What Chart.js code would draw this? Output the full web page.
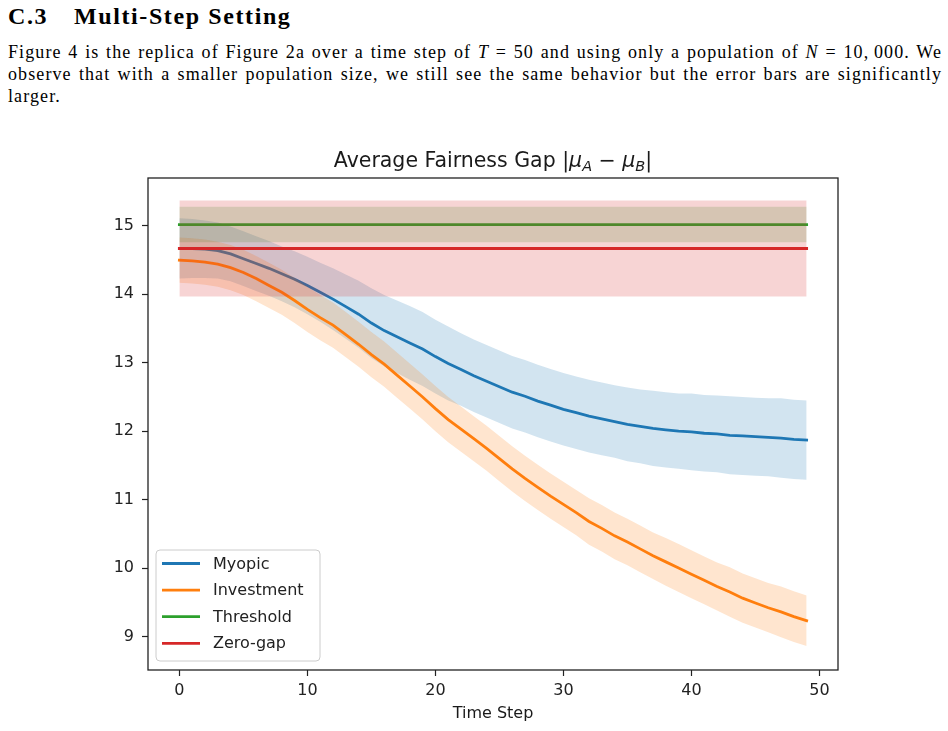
<!DOCTYPE html>
<html><head><meta charset="utf-8">
<script src="https://cdn.jsdelivr.net/npm/chart.js@4/dist/chart.umd.min.js"></script>
<style>
html,body{margin:0;padding:0;background:#fff;width:948px;height:731px;overflow:hidden;}
.tx{position:absolute;left:8px;width:934px;font-family:"Liberation Serif","Times New Roman",serif;color:#000;}
.h{font-weight:bold;font-size:24px;line-height:30px;white-space:nowrap;letter-spacing:1.6px;}
.p{font-size:18px;line-height:22px;letter-spacing:1.1px;text-align:justify;text-align-last:justify;}
.p.last{text-align:left;text-align-last:left;}
#wrap{position:absolute;left:0;top:130px;width:948px;height:601px;}
</style></head>
<body>
<div class="tx h" style="top:1px"><span>C.3</span><span style="position:absolute;left:66px;top:0">Multi-Step Setting</span></div>
<div class="tx p" style="top:41px">Figure 4 is the replica of Figure 2a over a time step of <i>T</i> = 50 and using only a population of <i>N</i> = 10,&#8201;000. We</div>
<div class="tx p" style="top:63px">observe that with a smaller population size, we still see the same behavior but the error bars are significantly</div>
<div class="tx p last" style="top:85px">larger.</div>
<div id="wrap"><canvas id="c" width="948" height="601"></canvas></div>
<script>
const steps = [0,1,2,3,4,5,6,7,8,9,10,11,12,13,14,15,16,17,18,19,20,21,22,23,24,25,26,27,28,29,30,31,32,33,34,35,36,37,38,39,40,41,42,43,44,45,46,47,48,49];
const seriesNames = ['Myopic','Investment','Threshold','Zero-gap'];
const myopicMean = [14.67,14.67,14.66,14.64,14.59,14.52,14.45,14.38,14.30,14.22,14.13,14.03,13.93,13.82,13.71,13.58,13.47,13.38,13.29,13.20,13.09,12.99,12.90,12.81,12.73,12.65,12.57,12.51,12.44,12.38,12.32,12.27,12.22,12.18,12.14,12.10,12.07,12.04,12.02,12.00,11.99,11.97,11.96,11.94,11.93,11.92,11.91,11.90,11.88,11.87];
const myopicStd = [0.44,0.43,0.42,0.41,0.40,0.40,0.40,0.40,0.40,0.41,0.42,0.43,0.45,0.47,0.49,0.51,0.52,0.53,0.54,0.54,0.54,0.54,0.53,0.53,0.53,0.53,0.53,0.53,0.53,0.53,0.53,0.53,0.53,0.53,0.53,0.54,0.54,0.55,0.55,0.55,0.56,0.56,0.56,0.57,0.57,0.57,0.57,0.58,0.58,0.58];
const investmentMean = [14.50,14.49,14.47,14.44,14.39,14.32,14.23,14.13,14.03,13.91,13.78,13.66,13.55,13.41,13.27,13.12,12.98,12.82,12.66,12.50,12.33,12.17,12.03,11.89,11.75,11.60,11.45,11.31,11.18,11.05,10.93,10.81,10.68,10.58,10.47,10.38,10.28,10.18,10.09,10.00,9.91,9.82,9.73,9.65,9.56,9.49,9.42,9.36,9.29,9.23];
const investmentStd = [0.33,0.33,0.33,0.33,0.33,0.33,0.33,0.33,0.33,0.33,0.33,0.33,0.33,0.33,0.33,0.33,0.33,0.33,0.33,0.33,0.33,0.33,0.33,0.33,0.33,0.33,0.33,0.33,0.33,0.33,0.33,0.33,0.34,0.34,0.34,0.34,0.34,0.34,0.35,0.35,0.35,0.35,0.35,0.36,0.36,0.36,0.36,0.37,0.37,0.37];
const thresholdMean = [15.02,15.02,15.02,15.02,15.02,15.02,15.02,15.02,15.02,15.02,15.02,15.02,15.02,15.02,15.02,15.02,15.02,15.02,15.02,15.02,15.02,15.02,15.02,15.02,15.02,15.02,15.02,15.02,15.02,15.02,15.02,15.02,15.02,15.02,15.02,15.02,15.02,15.02,15.02,15.02,15.02,15.02,15.02,15.02,15.02,15.02,15.02,15.02,15.02,15.02];
const thresholdStd = [0.26,0.26,0.26,0.26,0.26,0.26,0.26,0.26,0.26,0.26,0.26,0.26,0.26,0.26,0.26,0.26,0.26,0.26,0.26,0.26,0.26,0.26,0.26,0.26,0.26,0.26,0.26,0.26,0.26,0.26,0.26,0.26,0.26,0.26,0.26,0.26,0.26,0.26,0.26,0.26,0.26,0.26,0.26,0.26,0.26,0.26,0.26,0.26,0.26,0.26];
const zeroGapMean = [14.67,14.67,14.67,14.67,14.67,14.67,14.67,14.67,14.67,14.67,14.67,14.67,14.67,14.67,14.67,14.67,14.67,14.67,14.67,14.67,14.67,14.67,14.67,14.67,14.67,14.67,14.67,14.67,14.67,14.67,14.67,14.67,14.67,14.67,14.67,14.67,14.67,14.67,14.67,14.67,14.67,14.67,14.67,14.67,14.67,14.67,14.67,14.67,14.67,14.67];
const zeroGapStd = [0.70,0.70,0.70,0.70,0.70,0.70,0.70,0.70,0.70,0.70,0.70,0.70,0.70,0.70,0.70,0.70,0.70,0.70,0.70,0.70,0.70,0.70,0.70,0.70,0.70,0.70,0.70,0.70,0.70,0.70,0.70,0.70,0.70,0.70,0.70,0.70,0.70,0.70,0.70,0.70,0.70,0.70,0.70,0.70,0.70,0.70,0.70,0.70,0.70,0.70];
const xTicks = [0,10,20,30,40,50];
const yTicks = [9,10,11,12,13,14,15];

const colors = ['#1f77b4','#ff7f0e','#2ca02c','#d62728'];
const fills = ['rgba(31,119,180,0.2)','rgba(255,127,14,0.2)','rgba(44,160,44,0.2)','rgba(214,39,40,0.2)'];
const means = [myopicMean, investmentMean, thresholdMean, zeroGapMean];
const stds = [myopicStd, investmentStd, thresholdStd, zeroGapStd];

const datasets = [];
let ord = 100;
seriesNames.forEach((name, k) => {
  const m = means[k], s = stds[k];
  datasets.push({label:name, data: steps.map((x,i)=>({x, y:m[i]})), borderColor:colors[k], borderWidth:2.8,
    pointRadius:0, fill:false, order:ord--, borderCapStyle:'square'});
  datasets.push({label:name+' band', data: steps.map((x,i)=>({x, y:m[i]+s[i]})), borderWidth:0, borderColor:'rgba(0,0,0,0)',
    pointRadius:0, fill:'+1', backgroundColor:fills[k], order:ord--});
  datasets.push({label:name+' band low', data: steps.map((x,i)=>({x, y:m[i]-s[i]})), borderWidth:0, borderColor:'rgba(0,0,0,0)',
    pointRadius:0, fill:false, order:ord--});
});

const FONT = '"DejaVu Sans", sans-serif';

const decor = {
  id:'decor',
  afterDatasetsDraw(chart){
    const ctx = chart.ctx, a = chart.chartArea;
    ctx.save();
    ctx.strokeStyle = '#222'; ctx.lineWidth = 1.3;
    ctx.strokeRect(a.left, a.top, a.right - a.left, a.bottom - a.top);
    // legend
    const x0 = a.left + 8, w = 164, h = 111, y0 = a.bottom - 9 - h, r = 4;
    ctx.beginPath();
    ctx.moveTo(x0+r, y0); ctx.lineTo(x0+w-r, y0); ctx.quadraticCurveTo(x0+w, y0, x0+w, y0+r);
    ctx.lineTo(x0+w, y0+h-r); ctx.quadraticCurveTo(x0+w, y0+h, x0+w-r, y0+h);
    ctx.lineTo(x0+r, y0+h); ctx.quadraticCurveTo(x0, y0+h, x0, y0+h-r);
    ctx.lineTo(x0, y0+r); ctx.quadraticCurveTo(x0, y0, x0+r, y0); ctx.closePath();
    ctx.fillStyle = 'rgba(255,255,255,0.8)'; ctx.fill();
    ctx.strokeStyle = '#cccccc'; ctx.lineWidth = 1; ctx.stroke();
    ctx.font = '16px ' + FONT; ctx.textBaseline = 'middle'; ctx.textAlign = 'left';
    seriesNames.forEach((n, k) => {
      const yy = y0 + 13.5 + k * 26.6;
      ctx.strokeStyle = colors[k]; ctx.lineWidth = 2.8; ctx.lineCap = 'butt';
      ctx.beginPath(); ctx.moveTo(x0 + 6, yy); ctx.lineTo(x0 + 44, yy); ctx.stroke();
      ctx.fillStyle = '#222'; ctx.fillText(n, x0 + 57, yy + 1);
    });
    // title with math
    const cx = (a.left + a.right) / 2, ty = a.top - 11;
    const parts = [
      ['Average Fairness Gap |', '20.5px ' + FONT, 0],
      ['\u03bc', 'italic 20.5px ' + FONT, 0],
      ['A', 'italic 14.5px ' + FONT, 4],
      [' \u2212 ', '20.5px ' + FONT, 0],
      ['\u03bc', 'italic 20.5px ' + FONT, 0],
      ['B', 'italic 14.5px ' + FONT, 4],
      ['|', '20.5px ' + FONT, 0]
    ];
    let tw = 0;
    parts.forEach(p => { ctx.font = p[1]; tw += ctx.measureText(p[0]).width; });
    let tx = cx - tw / 2;
    ctx.fillStyle = '#1a1a1a'; ctx.textBaseline = 'alphabetic'; ctx.textAlign = 'left';
    parts.forEach(p => { ctx.font = p[1]; ctx.fillText(p[0], tx, ty + p[2]); tx += ctx.measureText(p[0]).width; });
    // x axis title
    ctx.font = '16px ' + FONT; ctx.textAlign = 'center';
    ctx.fillText('Time Step', cx, a.bottom + 48);
    ctx.restore();
  }
};

new Chart(document.getElementById('c'), {
  type:'line',
  data:{datasets},
  options:{
    responsive:false, animation:false, devicePixelRatio:1,
    layout:{padding:{left:0,right:110,top:48,bottom:0}},
    plugins:{legend:{display:false}, tooltip:{enabled:false}, title:{display:false}},
    elements:{line:{tension:0}},
    scales:{
      x:{type:'linear', min:-2.45, max:51.45,
        afterBuildTicks:s=>{s.ticks = xTicks.map(v=>({value:v}));},
        afterFit:s=>{s.height = 61;},
        ticks:{color:'#222', font:{family:FONT, size:16}, padding:5, maxRotation:0, autoSkip:false},
        grid:{drawOnChartArea:false, drawTicks:true, tickLength:6, tickColor:'#222', tickWidth:1.2},
        border:{display:false}},
      y:{type:'linear', min:8.51, max:15.70,
        afterBuildTicks:s=>{s.ticks = yTicks.map(v=>({value:v}));},
        afterFit:s=>{s.width = 148;},
        ticks:{color:'#222', font:{family:FONT, size:16}, padding:8, autoSkip:false},
        grid:{drawOnChartArea:false, drawTicks:true, tickLength:6, tickColor:'#222', tickWidth:1.2},
        border:{display:false}}
    }
  },
  plugins:[decor]
});
</script>
</body></html>
